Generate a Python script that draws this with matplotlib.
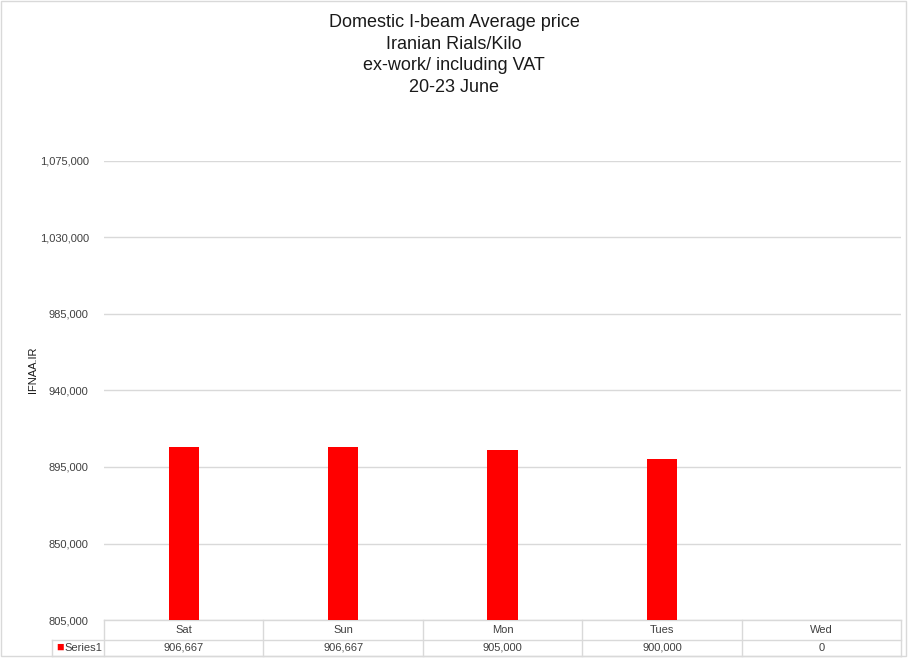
"""Domestic I-beam average price, Excel-style column chart with data table."""

import matplotlib.pyplot as plt
import numpy as np
from matplotlib.patches import Rectangle
from matplotlib.ticker import FuncFormatter

days = ["Sat", "Sun", "Mon", "Tues", "Wed"]
prices = [906667, 906667, 905000, 900000, 0]
series_name = "Series1"
y_ticks = [805000, 850000, 895000, 940000, 985000, 1030000, 1075000]
title_lines = [
    "Domestic I-beam Average price",
    "Iranian Rials/Kilo",
    "ex-work/ including VAT",
    "20-23 June",
]

RED = "#ff0000"
GRID = "#d9d9d9"
TXT = "#404040"

plt.rcParams["font.family"] = ["Liberation Sans", "DejaVu Sans"]

W, H = 908, 659
fig = plt.figure(figsize=(W / 100, H / 100), dpi=100)
ax = fig.add_axes([104 / W, 1 - 620 / H, 797 / W, 459 / H])

x = np.arange(len(days))
ax.bar(x, prices, width=0.19, color=RED, zorder=3)

ax.set_xlim(-0.5, len(days) - 0.5)
ax.set_ylim(y_ticks[0], y_ticks[-1])
ax.set_yticks(y_ticks)
ax.yaxis.set_major_formatter(FuncFormatter(lambda v, _: f"{v:,.0f}"))
ax.tick_params(axis="y", length=0, pad=11, labelsize=8, labelcolor=TXT)
ax.set_xticks([])
ax.grid(axis="y", color=GRID, linewidth=1, zorder=0)
for s in ax.spines.values():
    s.set_visible(False)

# data table under the plot (axes y coords)
row1 = -20 / 459
row2 = -36 / 459
lab_left = -52 / 797
lk = dict(color=GRID, linewidth=1, clip_on=False, transform=ax.transAxes)
ax.plot([0, 1], [0, 0], **lk)
ax.plot([lab_left, 1], [row1, row1], **lk)
ax.plot([lab_left, 1], [row2, row2], **lk)
ax.plot([lab_left, lab_left], [row1, row2], **lk)
bt = ax.get_xaxis_transform()
for i in range(len(days) + 1):
    ax.plot([i - 0.5, i - 0.5], [0, row2], color=GRID, linewidth=1,
            clip_on=False, transform=bt)
for i, (d, p) in enumerate(zip(days, prices)):
    ax.text(i, row1 / 2, d, transform=bt, ha="center", va="center",
            fontsize=8, color=TXT)
    ax.text(i, (row1 + row2) / 2, f"{p:,.0f}", transform=bt, ha="center",
            va="center", fontsize=8, color=TXT)
ax.text(lab_left + 0.005, (row1 + row2) / 2, "\u25a0", transform=ax.transAxes,
        ha="left", va="center", fontsize=9, color=RED)
ax.text(lab_left + 0.016, (row1 + row2) / 2, series_name, transform=ax.transAxes,
        ha="left", va="center", fontsize=8, color=TXT)

# title and axis label
fig.text(0.5, 1 - 14 / H, "\n".join(title_lines), ha="center", va="top",
         fontsize=13, color="#1a1a1a", linespacing=1.35)
fig.text(33 / W, 1 - 370 / H, "IFNAA.IR", rotation=90, ha="center",
         va="center", fontsize=8, color="#1a1a1a")

# chart frame
fig.patches.append(Rectangle((0.5 / W, 3 / H), 905 / W, 655 / H, fill=False,
                             edgecolor=GRID, linewidth=1,
                             transform=fig.transFigure))

fig.savefig("out.png", dpi=100)
